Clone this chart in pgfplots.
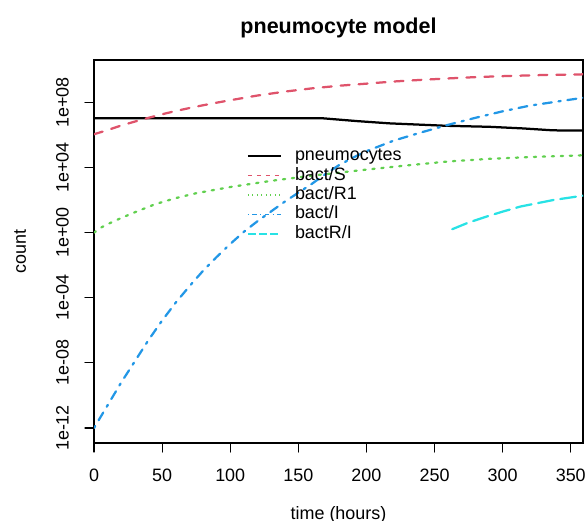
\documentclass[border=0pt]{standalone}
\usepackage{fontspec}
\setmainfont{Liberation Sans}
\usepackage{pgfplots}
\pgfplotsset{compat=1.18}
\definecolor{cRed}{HTML}{DF536B}
\definecolor{cGreen}{HTML}{61D04F}
\definecolor{cBlue}{HTML}{2297E6}
\definecolor{cCyan}{HTML}{28E2E5}
\begin{document}
\fontsize{12}{14.4}\selectfont
\begin{tikzpicture}
\begin{axis}[
  at={(0,0)}, anchor=south west,
  scale only axis, width=326bp, height=255.33bp,
  xmin=0, xmax=359, ymode=log, ymin=1.2e-13, ymax=4e10,
  xtick={0,50,...,350},
  ytick={1e-12,1e-8,1e-4,1,1e4,1e8},
  yticklabels={1e-12,1e-08,1e-04,1e+00,1e+04,1e+08},
  xminorticks=false, yminorticks=false,
  tick pos=left, tick align=outside, major tick length=6bp,
  tick style={black, line width=0.75bp},
  axis line style={line width=0.75bp},
  /pgf/number format/assume math mode=true,
  ticklabel style={font=\fontsize{12}{14}\selectfont},
  xticklabel style={anchor=base, yshift=-20bp},
  yticklabel style={xshift=-10.9bp, rotate=90, anchor=base},
  title={pneumocyte model},
  title style={at={(0.5,1)}, anchor=base, yshift=11.9bp, font=\bfseries\fontsize{14.4}{17}\selectfont},
  xlabel={time (hours)}, ylabel={count},
  every axis x label/.style={at={(rel axis cs:0.5,0)}, anchor=base, yshift=-50.8bp},
  every axis y label/.style={at={(rel axis cs:0,0.5)}, xshift=-49.3bp, rotate=90, anchor=center},
  legend cell align=left,
  legend style={at={(rel axis cs:0.3123,0.773)}, anchor=north west, draw=none, fill=none,
    inner sep=0pt, row sep=0.93bp, column sep=0pt,
    nodes={inner xsep=9bp, inner ysep=0pt, text height=9bp, text depth=3bp, font=\fontsize{12}{14}\selectfont}},
  line cap=round,
]
\addplot[black, line width=1.5bp, solid,
  legend image code/.code={\draw[draw=black, line width=1bp] (0bp,0bp) -- (22bp,0bp);}]
table {
0 1.05e7
168 1.05e7
193 7.08e6
217 5.13e6
259 3.63e6
290 3.16e6
315 2.51e6
337 1.91e6
359 1.86e6
};
\addlegendentry{pneumocytes}
\addplot[cRed, line width=1.5bp, dash pattern=on 6bp off 6bp,
  legend image code/.code={\draw[draw=cRed, line width=1bp, dash pattern=on 3bp off 3bp] (0bp,0bp) -- (22bp,0bp);}]
table {
0 1.10e6
10 2.00e6
20 3.80e6
30 6.61e6
40 1.12e7
50 1.86e7
60 2.95e7
70 4.47e7
80 6.61e7
90 9.55e7
100 1.35e8
120 2.63e8
140 4.57e8
160 7.24e8
180 1.05e9
200 1.41e9
220 1.91e9
240 2.40e9
260 2.95e9
280 3.55e9
300 4.07e9
330 4.79e9
359 5.25e9
};
\addlegendentry{bact/S}
\addplot[cGreen, line width=1.5bp, dash pattern=on 1.5bp off 4.5bp,
  legend image code/.code={\draw[draw=cGreen, line width=1bp, dash pattern=on 0.75bp off 2.25bp] (0bp,0bp) -- (22bp,0bp);}]
table {
0 1
5 2.0
10 3.31
20 7.94
30 17.8
45 56.2
60 132
75 263
100 631
130 1510
160 3160
200 7410
230 13500
260 23400
290 33900
320 43700
359 56200
};
\addlegendentry{bact/R1}
\addplot[cBlue, line width=1.5bp, dash pattern=on 1.5bp off 4.5bp on 6bp off 4.5bp,
  legend image code/.code={\draw[draw=cBlue, line width=1bp, dash pattern=on 0.75bp off 2.25bp on 3bp off 2.25bp] (0bp,0bp) -- (22bp,0bp);}]
table {
0 1e-12
10 2.51e-11
20 6.31e-10
30 1.26e-8
40 2.51e-7
50 3.98e-6
60 5.01e-5
70 5.01e-4
80 4.47e-3
90 3.16e-2
100 0.2
110 1.12
120 5.01
130 20.0
140 79.4
150 282
160 1000
170 3980
180 14100
190 39800
200 1e5
220 4.47e5
240 1.41e6
260 4.17e6
280 1.12e7
300 2.82e7
320 6.31e7
340 1.12e8
359 1.91e8
};
\addlegendentry{bact/I}
\addplot[cCyan, line width=1.5bp, dash pattern=on 10.5bp off 4.5bp,
  legend image code/.code={\draw[draw=cCyan, line width=1bp, dash pattern=on 5.25bp off 2.25bp] (0bp,0bp) -- (22bp,0bp);}]
table {
263 1.62
275 4.17
288 9.55
300 19.5
313 39.8
325 63.1
337 100
359 186
};
\addlegendentry{bactR/I}
\end{axis}
\pgfresetboundingbox
\path[use as bounding box] (-62.67bp,-52bp) rectangle (327.33bp,295.33bp);
\end{tikzpicture}
\end{document}
